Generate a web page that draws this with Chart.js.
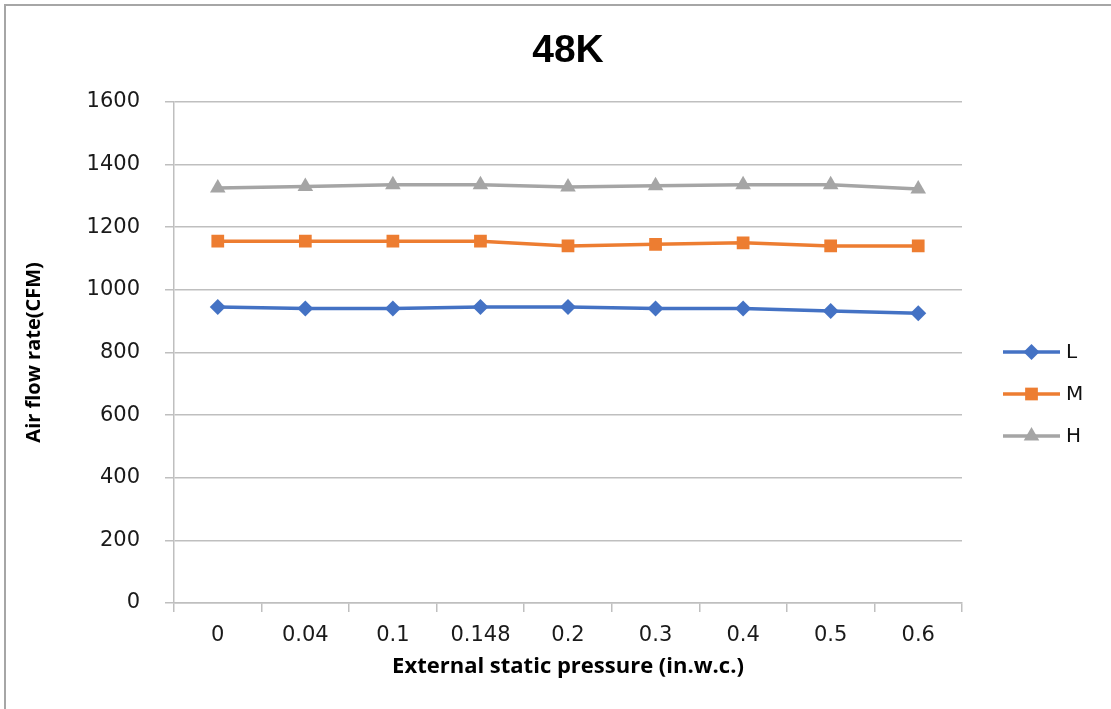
<!DOCTYPE html>
<html><head><meta charset="utf-8">
<script src="https://cdn.jsdelivr.net/npm/chart.js@4/dist/chart.umd.min.js"></script>
<style>
html,body{margin:0;padding:0;background:#fff;}
#wrap{position:relative;width:1111px;height:709px;}
#frame{position:absolute;left:4px;top:4px;width:1120px;height:720px;border:2px solid #a6a6a6;box-sizing:border-box;pointer-events:none;}
canvas{position:absolute;left:0;top:0;}
</style></head>
<body><div id="wrap"><canvas id="c" width="1111" height="709"></canvas><div id="frame"></div></div>
<script>
const categories = ['0','0.04','0.1','0.148','0.2','0.3','0.4','0.5','0.6'];
const seriesL = [945, 940, 940, 945, 945, 940, 940, 932, 925];
const seriesM = [1155, 1155, 1155, 1155, 1140, 1145, 1150, 1140, 1140];
const seriesH = [1325, 1330, 1335, 1335, 1328, 1332, 1335, 1335, 1322];
const yTicks = [0,200,400,600,800,1000,1200,1400,1600];

const COLORS = {L:'#4472C4', M:'#ED7D31', H:'#A5A5A5'};
const FONT = 'Liberation Sans, Arial, sans-serif';
const TICKFONT = 'DejaVu Sans, Liberation Sans, sans-serif';
const TFONT = 'Open Sans, Liberation Sans, sans-serif';

function ds(label, data, color, style, r){
  return {label, data, borderColor:color, backgroundColor:color, borderWidth:3.5,
    pointStyle:style, pointRadius:r, pointHoverRadius:r, pointBorderWidth:0, tension:0};
}

const legendPlugin = {
  id:'customLegend',
  afterDraw(chart){
    const ctx = chart.ctx;
    const x0 = 1003, x1 = 1060, tx = 1066;
    const ys = [352, 394, 436];
    chart.data.datasets.forEach((d,i)=>{
      const y = ys[i];
      ctx.save();
      ctx.strokeStyle = d.borderColor; ctx.lineWidth = 3.5;
      ctx.beginPath(); ctx.moveTo(x0,y); ctx.lineTo(x1,y); ctx.stroke();
      ctx.fillStyle = d.borderColor;
      Chart.helpers.drawPoint(ctx, {pointStyle:d.pointStyle, radius:d.pointRadius, borderWidth:0}, (x0+x1)/2, y);
      ctx.fillStyle = '#111';
      ctx.font = '20px ' + TICKFONT;
      ctx.textBaseline = 'middle'; ctx.textAlign = 'left';
      ctx.fillText(d.label, tx, y+1);
      ctx.restore();
    });
  }
};

new Chart(document.getElementById('c'), {
  type:'line',
  data:{labels:categories, datasets:[
    ds('L', seriesL, COLORS.L, 'rectRot', 8),
    ds('M', seriesM, COLORS.M, 'rect', 9),
    ds('H', seriesH, COLORS.H, 'triangle', 9)
  ]},
  options:{
    responsive:false, animation:false,
    layout:{padding:{left:0,right:149,top:0,bottom:0}},
    plugins:{
      legend:{display:false},
      tooltip:{enabled:false},
      title:{display:true, fullSize:false, text:'48K', color:'#000', font:{family:FONT, size:39, weight:'bold', lineHeight:1.2}, padding:{top:28,bottom:27}}
    },
    scales:{
      x:{
        offset:true,
        grid:{offset:true, drawOnChartArea:false, drawTicks:true, tickLength:9, color:'#bfbfbf', lineWidth:1.5},
        border:{color:'#bfbfbf', width:1.5},
        ticks:{color:'#1a1a1a', font:{family:TICKFONT, size:21}, padding:11, maxRotation:0},
        title:{display:true, text:'External static pressure (in.w.c.)', color:'#000', font:{family:TFONT, size:22, weight:'bold', lineHeight:1.2}, padding:{top:4,bottom:29}},
        afterFit(s){ s.height = 106; }
      },
      y:{
        min:0, max:1600,
        afterBuildTicks(s){ s.ticks = yTicks.map(v=>({value:v})); },
        grid:{color:'#bfbfbf', lineWidth:1.5, tickLength:9},
        border:{color:'#bfbfbf', width:1.5},
        ticks:{color:'#1a1a1a', font:{family:TICKFONT, size:21}, padding:25, callback:(v)=>String(v)},
        title:{display:true, text:'Air flow rate(CFM)', color:'#000', font:{family:TFONT, size:20, weight:'bold', lineHeight:1.2}, padding:{top:22,bottom:0}},
        afterFit(s){ s.width = 174; }
      }
    }
  },
  plugins:[legendPlugin]
});
</script></body></html>
